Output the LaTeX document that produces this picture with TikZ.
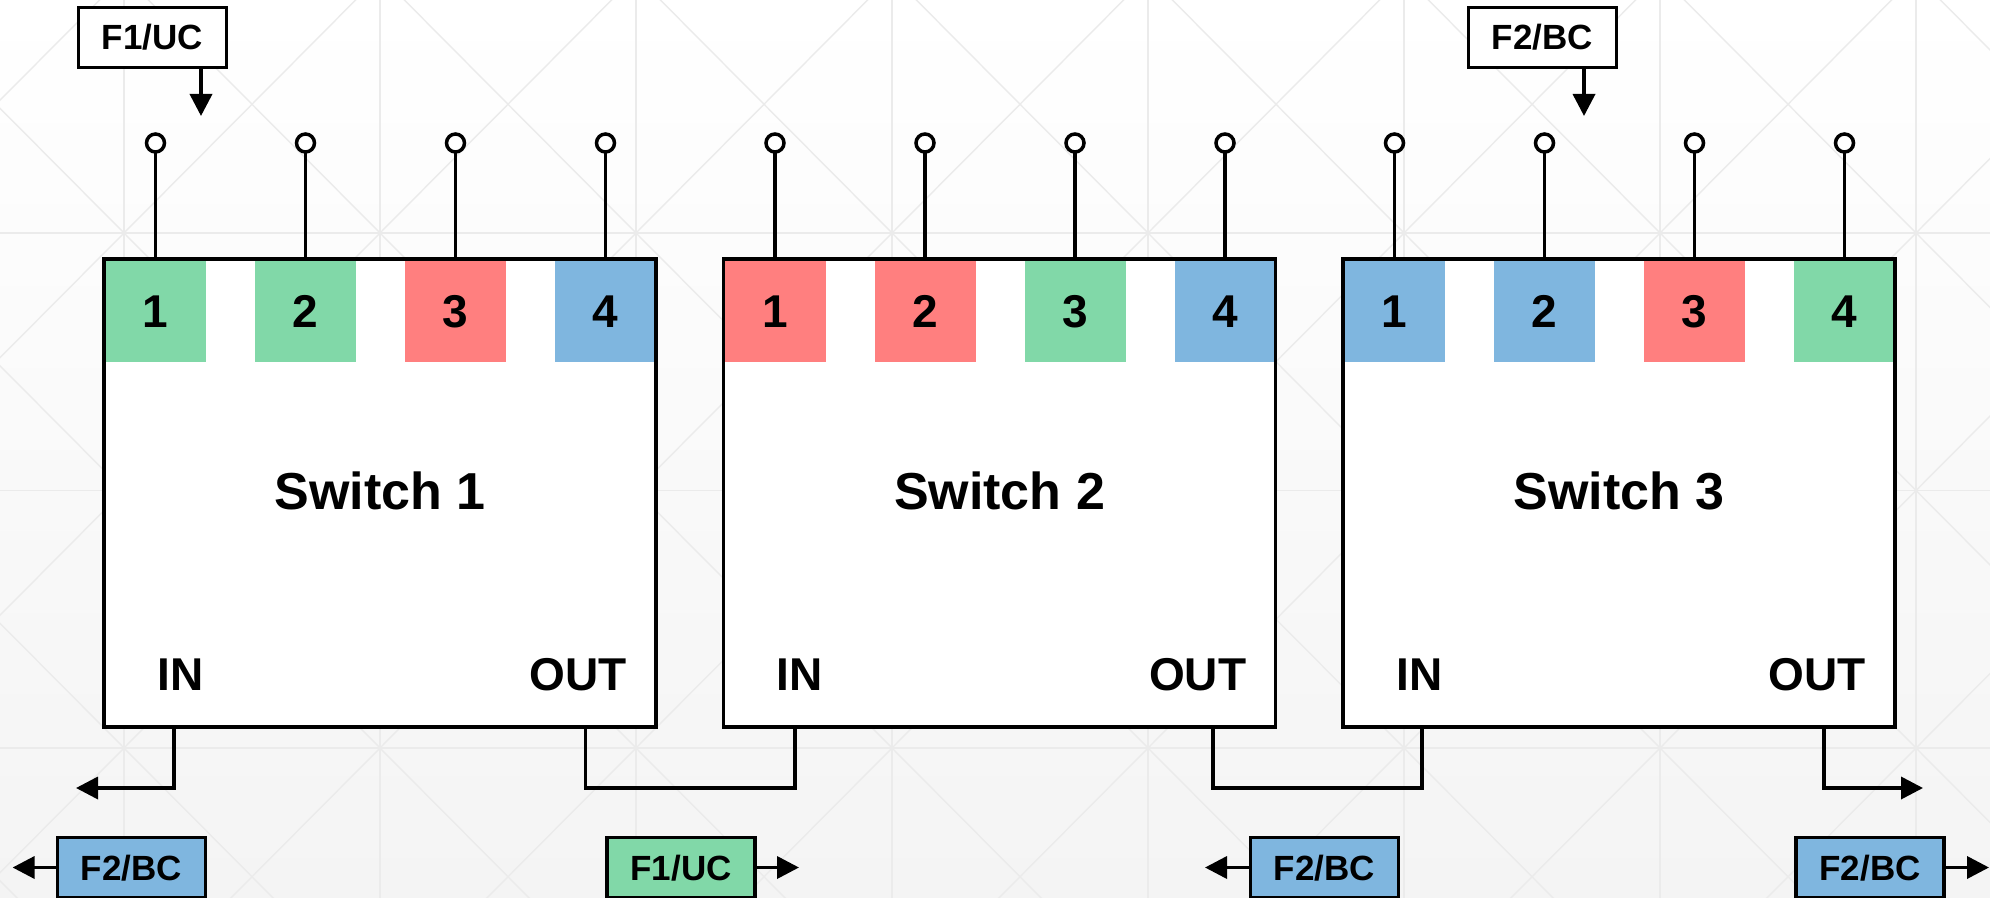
\documentclass[tikz,border=0pt]{standalone}
\usepackage{fontspec}
\setmainfont{Liberation Sans}
\usetikzlibrary{arrows.meta,shadings}
\definecolor{pgreen}{HTML}{81D8A8}
\definecolor{pred}{HTML}{FF7F7F}
\definecolor{pblue}{HTML}{7FB6DF}
\definecolor{bgbot}{HTML}{F4F4F4}
\definecolor{gridc}{HTML}{EBEBEB}
\begin{document}
\begin{tikzpicture}[x=0.5pt,y=-0.5pt,
  gridline/.style={draw=gridc,line width=0.7pt},
  swfill/.style={fill=white,minimum width=276pt,minimum height=234pt,inner sep=0pt,outer sep=0pt},
  swborder/.style={draw=black,line width=1.8pt},
  portbox/.style={minimum width=50.5pt,minimum height=50.5pt,inner sep=0pt,outer sep=0pt,font=\fontsize{23pt}{27pt}\selectfont\bfseries,text height=16.3pt,text depth=0pt},
  pinhead/.style={circle,draw=black,fill=white,line width=1.75pt,minimum size=9pt,inner sep=0pt,outer sep=0pt},
  wireline/.style={draw=black,line width=1.8pt},
  arrowtip/.style={-{Triangle[length=11pt,width=11pt]}},
  swlabel/.style={font=\fontsize{26pt}{30pt}\selectfont\bfseries,inner sep=0pt},
  iolabel/.style={font=\fontsize{23pt}{27pt}\selectfont\bfseries,inner sep=0pt},
  lblbox/.style={draw=black,line width=1.8pt,minimum width=74pt,minimum height=30pt,inner sep=0pt,outer sep=0pt,font=\fontsize{17.5pt}{21pt}\selectfont\bfseries,text height=12.5pt,text depth=0pt}
]
\useasboundingbox (0,0) rectangle (1990,898);
% background
\shade[top color=white,bottom color=bgbot] (0,0) rectangle (1990,898);
\begin{scope}
  \clip (0,0) rectangle (1990,898);
  \foreach \yy in {233,490.5,748} \draw[gridline] (0,\yy) -- (1990,\yy);
  \foreach \xx in {124,380,...,1916} \draw[gridline] (\xx,0) -- (\xx,898);
  \foreach \i in {-1,...,7}{
    \foreach \j in {-1,...,3}{
      \draw[gridline] ({124+256*\i},{233+257.5*\j}) -- ++(256,257.5);
      \draw[gridline] ({380+256*\i},{233+257.5*\j}) -- ++(-256,257.5);
    }
  }
\end{scope}

% switches
\foreach \n/\L/\ca/\cb/\cc/\cd in {1/104/pgreen/pgreen/pred/pblue,2/723.5/pred/pred/pgreen/pblue,3/1343/pblue/pblue/pred/pgreen}{
  \node[swfill] (s\n) at ({\L+276},493) {};
  \foreach \i/\c in {0/\ca,1/\cb,2/\cc,3/\cd}{
    \pgfmathtruncatemacro\j{\i+1}
    \node[portbox,fill=\c] (s\n p\j) at ({\L+51.5+150*\i},311.5) {\j};
    \node[pinhead] (s\n c\j) at ({\L+51.5+150*\i},143) {};
    \draw[wireline] (s\n c\j) -- (s\n p\j.north);
  }
  \draw[swborder] (s\n.north west) rectangle (s\n.south east);
  \node[swlabel,anchor=base] (s\n lab) at ({\L+276},509.3) {Switch \n};
  \node[iolabel,anchor=base west] (s\n in) at ({\L+53},690) {IN};
  \node[iolabel,anchor=base east] (s\n out) at ({\L+523},690) {OUT};
}

% wires between switches
\coordinate (w1in) at (174,727);
\coordinate (w1out) at (585.5,727);
\coordinate (w2in) at (795,727);
\coordinate (w2out) at (1213,727);
\coordinate (w3in) at (1422,727);
\coordinate (w3out) at (1824,727);
\coordinate (w1tip) at (76,788);
\coordinate (w3tip) at (1923,788);
\draw[wireline,arrowtip] (w1in) |- (w1tip);
\draw[wireline] (w1out) -- ++(0,61) -| (w2in);
\draw[wireline] (w2out) -- ++(0,61) -| (w3in);
\draw[wireline,arrowtip] (w3out) |- (w3tip);

% top labels
\node[lblbox,fill=white] (t1) at (152.5,37.5) {F1/UC};
\node[lblbox,fill=white] (t2) at (1542.5,37.5) {F2/BC};
\coordinate (t1tip) at (201,116);
\coordinate (t2tip) at (1584,116);
\draw[wireline,arrowtip] (t1.south -| t1tip) -- (t1tip);
\draw[wireline,arrowtip] (t2.south -| t2tip) -- (t2tip);

% bottom labels
\node[lblbox,fill=pblue] (b1) at (131.5,867.5) {F2/BC};
\node[lblbox,fill=pgreen] (b2) at (681,867.5) {F1/UC};
\node[lblbox,fill=pblue] (b3) at (1324.5,867.5) {F2/BC};
\node[lblbox,fill=pblue] (b4) at (1870,867.5) {F2/BC};
\coordinate (b1tip) at (12.6,867.5);
\coordinate (b2tip) at (799,867.5);
\coordinate (b3tip) at (1205,867.5);
\coordinate (b4tip) at (1989,867.5);
\draw[wireline,arrowtip] (b1.west) -- (b1tip);
\draw[wireline,arrowtip] (b2.east) -- (b2tip);
\draw[wireline,arrowtip] (b3.west) -- (b3tip);
\draw[wireline,arrowtip] (b4.east) -- (b4tip);
\end{tikzpicture}
\end{document}
